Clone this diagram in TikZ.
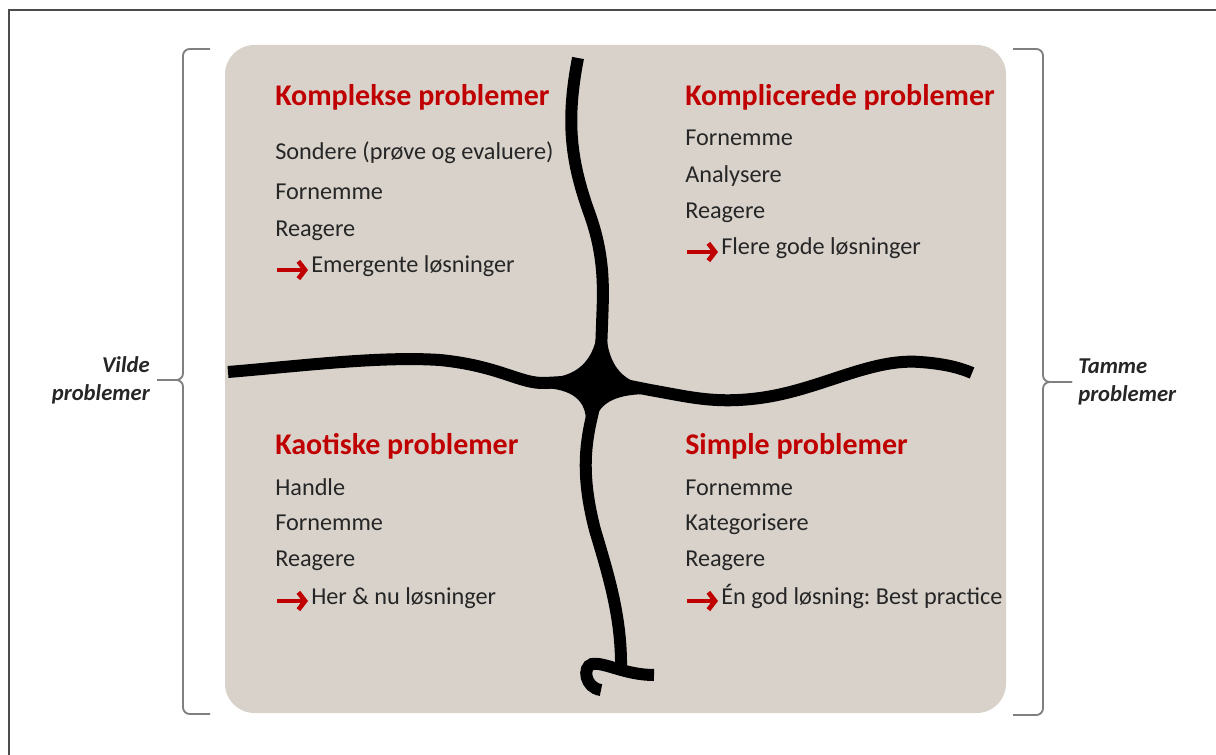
\documentclass[tikz,border=0pt]{standalone}
\usepackage{fontspec}
\setmainfont{Carlito}
\frenchspacing
\usetikzlibrary{arrows.meta,positioning}
\definecolor{feltbg}{RGB}{216,210,203}
\definecolor{feltred}{RGB}{192,0,0}
\definecolor{felttxt}{RGB}{38,38,38}

\begin{document}
\begin{tikzpicture}[x=0.75pt,y=-0.75pt,
  overskrift/.style={anchor=base west,inner sep=0pt,text=feltred,font=\fontsize{22.5}{27}\selectfont\bfseries},
  punkt/.style={anchor=base west,inner sep=0pt,text=felttxt,font=\fontsize{18.2}{22}\selectfont},
  pil/.style={draw=feltred,line width=3.5pt,-{Straight Barb[length=5pt,width=13pt]}},
  kryds/.style={line width=9pt,line cap=butt},
  klamme/.style={draw=gray,line width=1.4pt,rounded corners=5pt},
  siderubrik/.style={inner sep=0pt,text=felttxt,font=\fontsize{17}{21}\selectfont\bfseries\itshape,align=#1}]
\useasboundingbox (0,0) rectangle (1216,755);
\draw[gray!60!black,line width=1.5pt] (9,755) -- (9,10) -- (1216,10);
\fill[feltbg,rounded corners=22pt] (225,45) rectangle (1006,713);

\draw[klamme] (210,49) -- (183,49) -- (183,380) -- (157,380);
\draw[klamme] (157,380) -- (183,380) -- (183,714) -- (210,714);
\draw[klamme] (1013,49) -- (1043,49) -- (1043,382) -- (1072,382);
\draw[klamme] (1072,382) -- (1043,382) -- (1043,715) -- (1013,715);
\node[siderubrik=right,anchor=east] (vilde) at (150,380) {Vilde\\problemer};
\node[siderubrik=left,anchor=west] (tamme) at (1078,382) {Tamme\\problemer};

\draw[kryds] (578,58) .. controls (566,120) and (570,160) .. (590,215)
   .. controls (606,260) and (603,295) .. (602,325) -- (600,380);
\draw[kryds] (600,380) -- (590,425) .. controls (585,450) and (582,480) .. (595,530)
   .. controls (610,580) and (622,620) .. (621,672);
\draw[kryds] (654,675) .. controls (625,675) and (605,662) .. (592,664)
   .. controls (582,667) and (585,688) .. (601,690);
\draw[kryds] (228,372) .. controls (300,366) and (380,356) .. (440,360)
   .. controls (500,366) and (520,384) .. (545,383) -- (600,380);
\draw[kryds] (600,380) -- (650,390) .. controls (690,397) and (715,404) .. (760,398)
   .. controls (820,390) and (870,358) .. (920,362)
   .. controls (950,364) and (965,370) .. (972,373);
\fill (598,325) .. controls (596,362) and (575,378) .. (545,378) -- (545,388)
   .. controls (578,390) and (587,405) .. (586,425) -- (594,425)
   .. controls (598,400) and (620,394) .. (650,394) -- (650,386)
   .. controls (620,382) and (606,362) .. (606,325) -- cycle;

\node[overskrift] (kompleks) at (275,106) {Komplekse problemer};
\foreach \n/\y/\t in {1/160/Sondere (prøve og evaluere),2/200/Fornemme,3/237/Reagere}
   \node[punkt] (kompleks\n) at (275,\y) {\t};
\node[punkt] (kompleks4) at (311,273) {Emergente løsninger};
\coordinate (kompleksa) at (277,270);
\coordinate (kompleksb) at (308,270);
\draw[pil] (kompleksa) -- (kompleksb);

\node[overskrift] (kompliceret) at (685,106) {Komplicerede problemer};
\foreach \n/\y/\t in {1/146/Fornemme,2/183/Analysere,3/219/Reagere}
   \node[punkt] (kompliceret\n) at (685,\y) {\t};
\node[punkt] (kompliceret4) at (721,255) {Flere gode løsninger};
\coordinate (komplicereta) at (687,252);
\coordinate (kompliceretb) at (718,252);
\draw[pil] (komplicereta) -- (kompliceretb);

\node[overskrift] (kaotisk) at (275,454) {Kaotiske problemer};
\foreach \n/\y/\t in {1/495/Handle,2/530/Fornemme,3/566/Reagere}
   \node[punkt] (kaotisk\n) at (275,\y) {\t};
\node[punkt] (kaotisk4) at (311,604) {Her \& nu løsninger};
\coordinate (kaotiska) at (277,601);
\coordinate (kaotiskb) at (308,601);
\draw[pil] (kaotiska) -- (kaotiskb);

\node[overskrift] (simpel) at (685,454) {Simple problemer};
\foreach \n/\y/\t in {1/495/Fornemme,2/530/Kategorisere,3/566/Reagere}
   \node[punkt] (simpel\n) at (685,\y) {\t};
\node[punkt] (simpel4) at (721,604) {Én god løsning: Best practice};
\coordinate (simpela) at (687,601);
\coordinate (simpelb) at (718,601);
\draw[pil] (simpela) -- (simpelb);
\end{tikzpicture}
\end{document}
